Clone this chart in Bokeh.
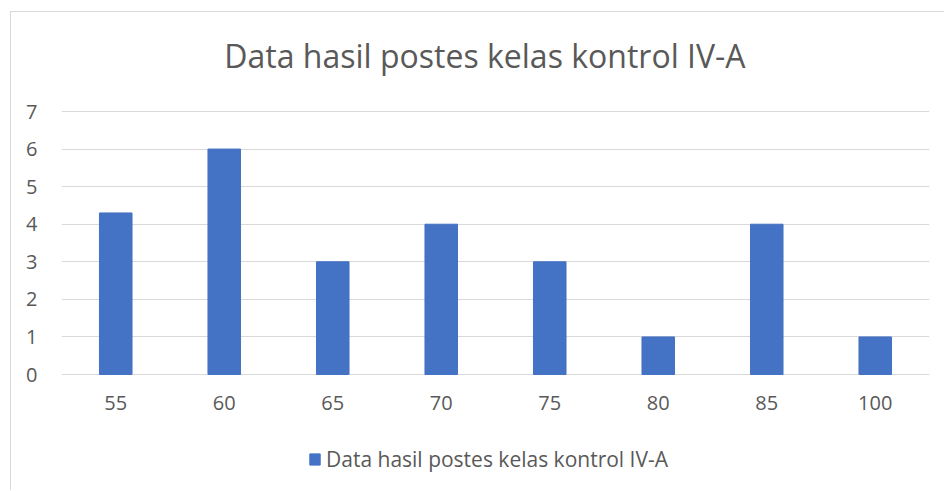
from bokeh.plotting import figure
from bokeh.models import Legend, LegendItem, ColumnDataSource, Range1d, Label
from bokeh.embed import file_html
from bokeh.resources import INLINE

categories = ["55", "60", "65", "70", "75", "80", "85", "100"]
values = [4.3, 6, 3, 4, 3, 1, 4, 1]
y_ticks = [0, 1, 2, 3, 4, 5, 6, 7]
series_name = "Data hasil postes kelas kontrol IV-A"
title_text = "Data hasil postes kelas kontrol IV-A"

FONT = "Open Sans"
TXT = "#595959"
GRID = "#d9d9d9"
BAR = "#4472C4"

src = ColumnDataSource(dict(cat=categories, val=values))

# frame spans the whole chart area vertically; value axis 0..7 sits inside it
p = figure(x_range=categories, y_range=Range1d(-3.114, 9.635),
           width=934, height=479,
           output_backend="svg", toolbar_location=None,
           min_border_left=50, min_border_right=16,
           min_border_top=0, min_border_bottom=0)
p.outline_line_color = None
p.styles = {"margin-left": "10px", "margin-top": "11px",
            "border-top": "1px solid #d9d9d9", "border-left": "1px solid #d9d9d9"}

r = p.vbar(x="cat", top="val", width=0.3, source=src, fill_color=BAR, line_color=BAR)

p.xgrid.grid_line_color = None
p.ygrid.grid_line_color = GRID
p.ygrid.grid_line_width = 1
p.yaxis.ticker = y_ticks
p.xaxis.fixed_location = 0
for ax in (p.xaxis, p.yaxis):
    ax.axis_line_color = None
    ax.major_tick_line_color = None
    ax.minor_tick_line_color = None
    ax.major_label_text_font = FONT
    ax.major_label_text_font_size = "20px"
    ax.major_label_text_color = TXT
p.xaxis.major_label_standoff = 15
p.yaxis.major_label_standoff = 18

p.add_layout(Label(x=3.903, y=8.49, text=title_text, text_align="center", text_baseline="middle",
                   text_font=FONT, text_font_size="32px", text_color=TXT))

legend = Legend(items=[LegendItem(label=series_name, renderers=[r])],
                location=(247, 18), orientation="horizontal",
                label_text_font=FONT, label_text_font_size="21px", label_text_color=TXT,
                glyph_width=13, glyph_height=14, padding=0, spacing=0, margin=0,
                border_line_color=None, background_fill_alpha=0, label_standoff=5)
p.add_layout(legend, "center")

open("out.html", "w").write(file_html(p, INLINE))
